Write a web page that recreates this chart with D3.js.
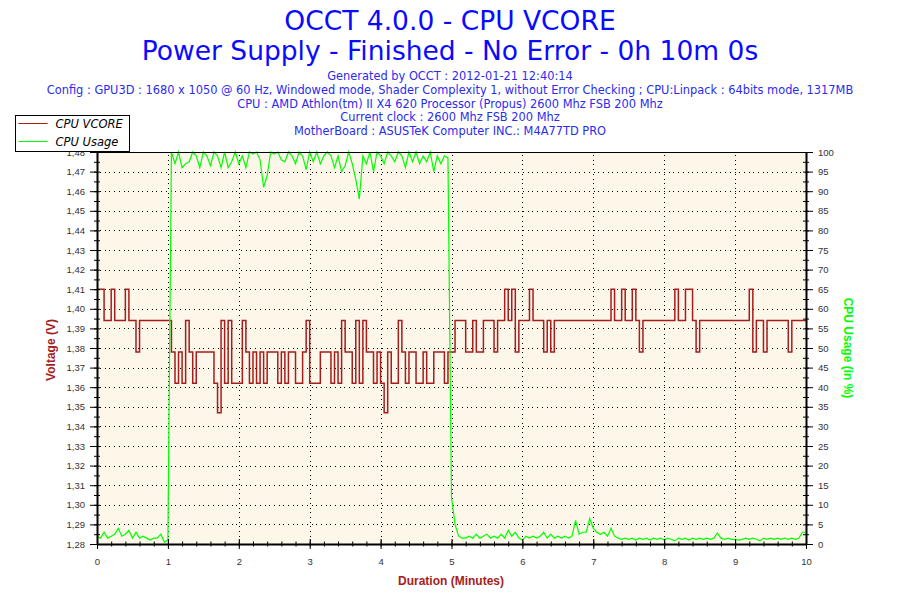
<!DOCTYPE html>
<html>
<head>
<meta charset="utf-8">
<script src="https://cdn.jsdelivr.net/npm/d3@7"></script>
<style>
  body { margin: 0; background: #fff; }
  svg { display: block; }
</style>
</head>
<body>
<div class="canvas"></div>
<script>
// chart texts
const titleLines = ["OCCT 4.0.0 - CPU VCORE", "Power Supply - Finished - No Error - 0h 10m 0s"];
const infoLines = [
  "Generated by OCCT : 2012-01-21 12:40:14",
  "Config : GPU3D : 1680 x 1050 @ 60 Hz, Windowed mode, Shader Complexity 1, without Error Checking ; CPU:Linpack : 64bits mode, 1317MB",
  "CPU : AMD Athlon(tm) II X4 620 Processor (Propus) 2600 Mhz FSB 200 Mhz",
  "Current clock : 2600 Mhz FSB 200 Mhz",
  "MotherBoard : ASUSTeK Computer INC.: M4A77TD PRO"
];
const seriesNames = ["CPU VCORE", "CPU Usage"];

// tick labels
const minuteTicks = [0, 1, 2, 3, 4, 5, 6, 7, 8, 9, 10];
const voltTicks = [1.28, 1.29, 1.30, 1.31, 1.32, 1.33, 1.34, 1.35, 1.36, 1.37, 1.38,
  1.39, 1.40, 1.41, 1.42, 1.43, 1.44, 1.45, 1.46, 1.47, 1.48];
const usageTicks = [0, 5, 10, 15, 20, 25, 30, 35, 40, 45, 50, 55, 60, 65, 70, 75, 80, 85, 90, 95, 100];

// one sample every 3 s (0.05 min), one row per minute
const sampleStep = 0.05;
const vcore = [
  1.41, 1.41, 1.394, 1.394, 1.41, 1.394, 1.394, 1.394, 1.41, 1.394, 1.394, 1.378, 1.394, 1.394, 1.394, 1.394, 1.394, 1.394, 1.394, 1.394,
  1.394, 1.378, 1.362, 1.378, 1.362, 1.394, 1.378, 1.362, 1.378, 1.378, 1.378, 1.378, 1.378, 1.362, 1.347, 1.394, 1.362, 1.394, 1.362, 1.362,
  1.362, 1.394, 1.378, 1.362, 1.378, 1.362, 1.378, 1.362, 1.378, 1.378, 1.378, 1.362, 1.378, 1.362, 1.378, 1.378, 1.362, 1.362, 1.378, 1.394,
  1.362, 1.362, 1.362, 1.378, 1.378, 1.378, 1.362, 1.378, 1.362, 1.394, 1.378, 1.378, 1.362, 1.394, 1.362, 1.394, 1.378, 1.378, 1.362, 1.378,
  1.362, 1.347, 1.378, 1.362, 1.362, 1.394, 1.378, 1.362, 1.378, 1.378, 1.362, 1.362, 1.378, 1.362, 1.362, 1.378, 1.378, 1.378, 1.362, 1.378,
  1.378, 1.394, 1.394, 1.394, 1.378, 1.378, 1.394, 1.378, 1.378, 1.394, 1.394, 1.394, 1.378, 1.394, 1.394, 1.41, 1.394, 1.41, 1.378, 1.394,
  1.394, 1.394, 1.41, 1.394, 1.394, 1.394, 1.378, 1.394, 1.378, 1.394, 1.394, 1.394, 1.394, 1.394, 1.394, 1.394, 1.394, 1.394, 1.394, 1.394,
  1.394, 1.394, 1.394, 1.394, 1.394, 1.41, 1.394, 1.394, 1.41, 1.394, 1.394, 1.41, 1.394, 1.378, 1.394, 1.394, 1.394, 1.394, 1.394, 1.394,
  1.394, 1.394, 1.394, 1.41, 1.394, 1.394, 1.41, 1.41, 1.394, 1.378, 1.394, 1.394, 1.394, 1.394, 1.394, 1.394, 1.394, 1.394, 1.394, 1.394,
  1.394, 1.394, 1.394, 1.394, 1.41, 1.378, 1.394, 1.394, 1.378, 1.394, 1.394, 1.394, 1.394, 1.394, 1.394, 1.378, 1.394, 1.394, 1.394, 1.394,
  1.394
];
const cpuUsage = [
  2, 1.5, 3, 1.5, 2, 2.5, 4, 2, 2.5, 3.5, 1.5, 3, 1.5, 2, 1.5, 1, 1.5, 1.5, 2.5, 0.5,
  1, 100, 97, 100, 96, 97, 97.5, 100, 99, 96, 100, 99, 96.5, 100, 99, 96, 100, 96, 97.5, 100,
  97, 99, 96, 100, 99.5, 100, 98, 91, 94, 100, 99.5, 100, 98, 97.5, 100, 99, 97, 100, 99, 95.5,
  100, 97.5, 100, 97, 99, 100, 99, 96, 99, 95, 96.5, 100, 97, 93, 88, 99, 97, 100, 95, 100,
  99, 97, 100, 99, 97.5, 100, 99, 96, 100, 97.5, 100, 97, 99, 97.5, 100, 95, 99, 97, 99, 98.5,
  12, 5, 2, 1.5, 1.5, 2, 1.5, 2.5, 1.5, 2, 2.5, 1.5, 2, 1.5, 2.5, 1.5, 3.5, 2, 3, 1.5,
  1, 2, 1.5, 2, 1.5, 2, 3, 1.5, 2.5, 1.5, 2, 1.5, 2, 1.5, 2, 6, 2.5, 3, 3, 6.5,
  4, 3, 2.5, 3, 2, 4, 2, 1.5, 1.2, 1.5, 1.2, 1.5, 1, 1.5, 1.2, 1.5, 1, 1.5, 1.2, 1.5,
  1, 1.5, 1.2, 0.8, 1.5, 1.2, 1.5, 1, 1.5, 1.2, 1.5, 1.2, 1.5, 1.2, 1.5, 2.8, 1.5, 1.2, 1.5, 1.2,
  1.2, 1, 1.2, 1.5, 1.2, 1.5, 1.2, 0.8, 1.5, 1.2, 1.5, 1.2, 1.5, 1.2, 1.5, 1.2, 1.5, 1.2, 1.5, 3,
  3
];

const dims = { width: 900, height: 600 };
const plot = { left: 97, right: 806, top: 152, bottom: 544 };
const colors = { vcore: "#a51d1d", usage: "#00ff00", title: "#0a0aff", info: "#2b2bf0", axisText: "#333" };

const svg = d3
  .select(".canvas")
  .append("svg")
  .attr("width", dims.width)
  .attr("height", dims.height)
  .style("background", "#fff");

// scales
const x = d3.scaleLinear().domain([0, 10]).range([plot.left, plot.right]);
const yVolt = d3.scaleLinear().domain([1.28, 1.48]).range([plot.bottom, plot.top]);
const yUsage = d3.scaleLinear().domain([0, 100]).range([plot.bottom, plot.top]);

// comma decimal separator
const locale = d3.formatLocale({ decimal: ",", thousands: ".", grouping: [3], currency: ["", ""] });
const voltFormat = locale.format(".2f");

//titles
svg
  .selectAll("text.title")
  .data(titleLines)
  .enter()
  .append("text")
  .attr("class", "title")
  .attr("x", dims.width / 2)
  .attr("y", (d, i) => 30 + i * 30)
  .attr("text-anchor", "middle")
  .attr("font-family", "DejaVu Sans, Verdana, sans-serif")
  .attr("font-size", 26.5)
  .attr("fill", colors.title)
  .text((d) => d);

svg
  .selectAll("text.info")
  .data(infoLines)
  .enter()
  .append("text")
  .attr("class", "info")
  .attr("x", dims.width / 2)
  .attr("y", (d, i) => 80 + i * 13.8)
  .attr("text-anchor", "middle")
  .attr("font-family", "DejaVu Sans, Verdana, sans-serif")
  .attr("font-size", 11.4)
  .attr("fill", colors.info)
  .text((d) => d);

//plot background
svg
  .append("rect")
  .attr("x", plot.left)
  .attr("y", plot.top)
  .attr("width", plot.right - plot.left)
  .attr("height", plot.bottom - plot.top)
  .attr("fill", "#fdf7e9");

//dotted grid
const grid = svg.append("g").attr("stroke", "#000").attr("stroke-dasharray", "1,3.7").attr("shape-rendering", "crispEdges");

grid
  .selectAll("line.h")
  .data(voltTicks.slice(1, -1))
  .enter()
  .append("line")
  .attr("x1", plot.left + 3)
  .attr("x2", plot.right)
  .attr("y1", (d) => Math.round(yVolt(d)) + 0.5)
  .attr("y2", (d) => Math.round(yVolt(d)) + 0.5);

grid
  .selectAll("line.v")
  .data(minuteTicks.slice(1, -1))
  .enter()
  .append("line")
  .attr("x1", (d) => Math.round(x(d)) + 0.5)
  .attr("x2", (d) => Math.round(x(d)) + 0.5)
  .attr("y1", plot.top + 3)
  .attr("y2", plot.bottom);

//lines
const vcoreLine = d3
  .line()
  .x((d, i) => x(i * sampleStep))
  .y((d) => yVolt(d))
  .curve(d3.curveStepAfter);

const usageLine = d3
  .line()
  .x((d, i) => x(i * sampleStep))
  .y((d) => yUsage(d));

svg
  .append("path")
  .datum(vcore)
  .attr("d", vcoreLine)
  .attr("fill", "none")
  .attr("stroke", colors.vcore)
  .attr("stroke-width", 1.5);

svg
  .append("path")
  .datum(cpuUsage)
  .attr("d", usageLine)
  .attr("fill", "none")
  .attr("stroke", colors.usage)
  .attr("stroke-width", 1.2);

//axes
const styleAxis = (g) => {
  g.selectAll("text").attr("fill", colors.axisText).attr("font-size", 9.5).attr("font-family", "Liberation Sans, Arial, sans-serif");
  g.selectAll("line").attr("stroke", "#000");
  g.select(".domain").attr("stroke", "#000").attr("stroke-width", 2);
};

// minor ticks (crossing the axis line)
const minorVolt = d3.range(1.28, 1.4801, 0.005);
const minorUsage = d3.range(0, 100.1, 2.5);
const minorMinute = d3.range(0, 10.01, 0.2);

svg
  .append("g")
  .attr("transform", `translate(${plot.left + 3},0)`)
  .call(d3.axisLeft(yVolt).tickValues(minorVolt).tickSize(6).tickFormat(""))
  .call((g) => g.select(".domain").remove())
  .call(styleAxis);

svg
  .append("g")
  .attr("transform", `translate(${plot.right - 3},0)`)
  .call(d3.axisRight(yUsage).tickValues(minorUsage).tickSize(6).tickFormat(""))
  .call((g) => g.select(".domain").remove())
  .call(styleAxis);

svg
  .append("g")
  .attr("transform", `translate(0,${plot.bottom - 2.5})`)
  .call(d3.axisBottom(x).tickValues(minorMinute).tickSize(5).tickFormat(""))
  .call((g) => g.select(".domain").remove())
  .call(styleAxis);

// major ticks with labels
svg
  .append("g")
  .attr("transform", `translate(${plot.left},0)`)
  .call(d3.axisLeft(yVolt).tickValues(voltTicks).tickSize(7).tickSizeOuter(0).tickPadding(5).tickFormat(voltFormat))
  .call(styleAxis);

svg
  .append("g")
  .attr("transform", `translate(${plot.right},0)`)
  .call(d3.axisRight(yUsage).tickValues(usageTicks).tickSize(7).tickSizeOuter(0).tickPadding(5))
  .call(styleAxis);

const bottomAxis = svg
  .append("g")
  .attr("transform", `translate(0,${plot.bottom})`)
  .call(d3.axisBottom(x).tickValues(minuteTicks).tickSize(5).tickSizeOuter(0).tickPadding(9))
  .call(styleAxis);
bottomAxis.selectAll(".tick line").attr("y1", -5);

// top border
svg
  .append("line")
  .attr("x1", plot.left)
  .attr("x2", plot.right)
  .attr("y1", plot.top + 0.5)
  .attr("y2", plot.top + 0.5)
  .attr("stroke", "#000");

//axis titles
svg
  .append("text")
  .attr("transform", `translate(55,350) rotate(-90)`)
  .attr("text-anchor", "middle")
  .attr("font-family", "Liberation Sans, Arial, sans-serif")
  .attr("font-weight", "bold")
  .attr("font-size", 12)
  .attr("fill", colors.vcore)
  .text("Voltage (V)");

svg
  .append("text")
  .attr("transform", `translate(844,348) rotate(90)`)
  .attr("text-anchor", "middle")
  .attr("font-family", "Liberation Sans, Arial, sans-serif")
  .attr("font-weight", "bold")
  .attr("font-size", 12)
  .attr("fill", colors.usage)
  .text("CPU Usage (in %)");

svg
  .append("text")
  .attr("x", 451)
  .attr("y", 585)
  .attr("text-anchor", "middle")
  .attr("font-family", "Liberation Sans, Arial, sans-serif")
  .attr("font-weight", "bold")
  .attr("font-size", 12)
  .attr("fill", colors.vcore)
  .text("Duration (Minutes)");

//legend
const legendGroup = svg.append("g").attr("transform", "translate(15.5,115.5)");

legendGroup
  .append("rect")
  .attr("width", 114)
  .attr("height", 36)
  .attr("fill", "#fff")
  .attr("stroke", "#000");

const legendItems = legendGroup
  .selectAll("g.item")
  .data(seriesNames)
  .enter()
  .append("g")
  .attr("transform", (d, i) => `translate(0,${8 + i * 18})`);

legendItems
  .append("line")
  .attr("x1", 3)
  .attr("x2", 32)
  .attr("stroke", (d, i) => (i === 0 ? colors.vcore : colors.usage))
  .attr("stroke-width", 1);

legendItems
  .append("text")
  .attr("x", 40)
  .attr("y", 4)
  .attr("font-family", "DejaVu Sans, Verdana, sans-serif")
  .attr("font-style", "italic")
  .attr("font-size", 11.5)
  .attr("fill", "#000")
  .text((d) => d);
</script>
</body>
</html>
